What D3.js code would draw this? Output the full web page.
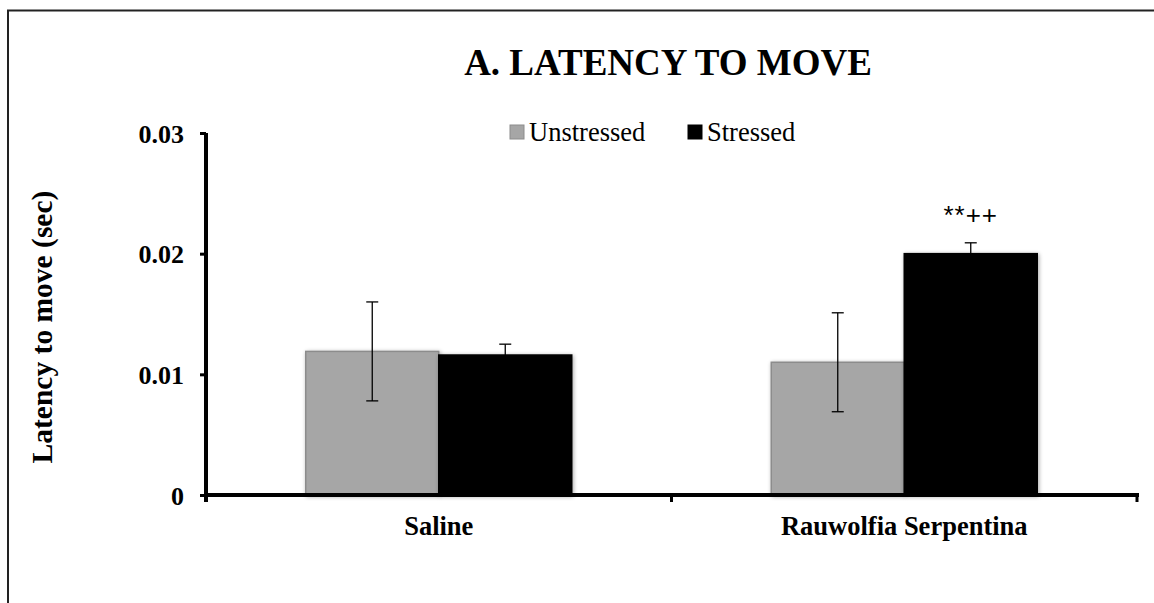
<!DOCTYPE html>
<html>
<head>
<meta charset="utf-8">
<script src="https://cdn.jsdelivr.net/npm/d3@7"></script>
<style>
  body { margin: 0; background: #fff; }
</style>
</head>
<body>
<div id="viz"></div>
<script>
// data
var groups = ["Saline", "Rauwolfia Serpentina"];
var series = ["Unstressed", "Stressed"];
var unstressed = [0.0119, 0.0110];
var stressed = [0.0116, 0.0200];
var unstressedErr = [0.0041, 0.0041];
var stressedErr = [0.0009, 0.0009];
var yTicks = [0, 0.01, 0.02, 0.03];
var marks = ["", "**++"];

var width = 1154,
    height = 603;
var serif = "'Liberation Serif', Tinos, 'Times New Roman', 'DejaVu Serif', serif";

var colors = {"Unstressed": "#a6a6a6", "Stressed": "#000000"};
var strokes = {"Unstressed": "#8c8c8c", "Stressed": "#000000"};

var svg = d3.select("#viz").append("svg")
    .attr("width", width)
    .attr("height", height)
    .style("font-family", serif);

// frame
svg.append("rect")
    .attr("x", 8)
    .attr("y", 10.5)
    .attr("width", width + 20)
    .attr("height", height + 20)
    .style("fill", "none")
    .style("stroke", "#222")
    .style("stroke-width", 2);

var x0 = d3.scaleBand()
    .domain(groups)
    .range([206, 1137])
    .paddingInner(0)
    .paddingOuter(0);

var x1 = d3.scaleBand()
    .domain(series)
    .range([0, x0.bandwidth()])
    .paddingInner(0)
    .paddingOuter(0.75);

var y = d3.scaleLinear()
    .domain([0, 0.03])
    .range([495, 133]);

var rows = groups.map(function(g, i) {
    return [
        {group: g, key: "Unstressed", value: unstressed[i], err: unstressedErr[i]},
        {group: g, key: "Stressed", value: stressed[i], err: stressedErr[i]}
    ];
});

// soft shadow like the original
var defs = svg.append("defs");
var f = defs.append("filter").attr("id", "shadow")
    .attr("x", "-10%").attr("y", "-10%").attr("width", "120%").attr("height", "120%");
f.append("feGaussianBlur").attr("in", "SourceAlpha").attr("stdDeviation", 2);
f.append("feOffset").attr("dx", 1).attr("dy", 1).attr("result", "b");
f.append("feComponentTransfer").append("feFuncA").attr("type", "linear").attr("slope", 0.35);
var fm = f.append("feMerge");
fm.append("feMergeNode");
fm.append("feMergeNode").attr("in", "SourceGraphic");

var g = svg.selectAll(".grp")
    .data(rows)
    .enter().append("g")
    .attr("class", "grp")
    .attr("transform", function(d, i) { return "translate(" + x0(groups[i]) + ",0)"; });

// bars
g.selectAll("rect")
    .data(function(d) { return d; })
    .enter().append("rect")
    .attr("x", function(d) { return x1(d.key); })
    .attr("y", function(d) { return y(d.value); })
    .attr("width", x1.bandwidth())
    .attr("height", function(d) { return y(0) - y(d.value); })
    .style("fill", function(d) { return colors[d.key]; })
    .style("stroke", function(d) { return strokes[d.key]; })
    .style("stroke-width", 1.5)
    .attr("filter", "url(#shadow)");

// error bars
var eb = g.selectAll(".err")
    .data(function(d) { return d; })
    .enter().append("g")
    .attr("class", "err")
    .style("stroke", "#000")
    .style("stroke-width", 1.3);

eb.append("line")
    .attr("x1", function(d) { return x1(d.key) + x1.bandwidth() / 2; })
    .attr("x2", function(d) { return x1(d.key) + x1.bandwidth() / 2; })
    .attr("y1", function(d) { return y(d.value + d.err); })
    .attr("y2", function(d) { return y(d.value - d.err); });

eb.append("line")
    .attr("x1", function(d) { return x1(d.key) + x1.bandwidth() / 2 - 6; })
    .attr("x2", function(d) { return x1(d.key) + x1.bandwidth() / 2 + 6; })
    .attr("y1", function(d) { return y(d.value + d.err); })
    .attr("y2", function(d) { return y(d.value + d.err); });

eb.append("line")
    .attr("x1", function(d) { return x1(d.key) + x1.bandwidth() / 2 - 6; })
    .attr("x2", function(d) { return x1(d.key) + x1.bandwidth() / 2 + 6; })
    .attr("y1", function(d) { return y(d.value - d.err); })
    .attr("y2", function(d) { return y(d.value - d.err); });

// significance marks
g.append("text")
    .attr("x", x1("Stressed") + x1.bandwidth() / 2)
    .attr("y", function(d, i) { return y(stressed[i] + stressedErr[i]) - 19; })
    .attr("text-anchor", "middle")
    .style("font-family", "'Liberation Sans', Arial, sans-serif")
    .style("font-size", "26px")
    .style("letter-spacing", "1px")
    .text(function(d, i) { return marks[i]; });

// y axis
var yAxis = svg.append("g")
    .attr("transform", "translate(206,0)")
    .call(d3.axisLeft(y).tickValues(yTicks).tickSize(6).tickPadding(16)
        .tickFormat(function(d) { return d === 0 ? "0" : d3.format(".2f")(d); }));
yAxis.select(".domain").attr("d", "M0," + (y(0) + 7) + "V" + y(0.03))
    .style("stroke-width", 4);
yAxis.selectAll(".tick line").style("stroke-width", 3);
yAxis.selectAll(".tick text")
    .style("font-family", serif)
    .style("font-size", "26px")
    .style("font-weight", "bold")
    .attr("dy", "0.35em");

// x axis
var xAxis = svg.append("g")
    .attr("transform", "translate(0," + y(0) + ")");
xAxis.append("line")
    .attr("x1", 204).attr("x2", 1139)
    .style("stroke", "#000").style("stroke-width", 4);
xAxis.selectAll(".xt")
    .data(groups.concat(["end"]))
    .enter().append("line")
    .attr("x1", function(d, i) { return i < groups.length ? x0(d) : x0.range()[1]; })
    .attr("x2", function(d, i) { return i < groups.length ? x0(d) : x0.range()[1]; })
    .attr("y1", 0).attr("y2", 7)
    .style("stroke", "#000").style("stroke-width", 3);
xAxis.selectAll(".xl")
    .data(groups)
    .enter().append("text")
    .attr("x", function(d) { return x0(d) + x0.bandwidth() / 2; })
    .attr("y", 40)
    .attr("text-anchor", "middle")
    .style("font-size", "26.5px")
    .style("font-weight", "bold")
    .text(function(d) { return d; });

// title
svg.append("text")
    .attr("x", 668)
    .attr("y", 75)
    .attr("text-anchor", "middle")
    .style("font-size", "37px")
    .style("font-weight", "bold")
    .text("A. LATENCY TO MOVE");

// y label
svg.append("text")
    .attr("transform", "translate(52,327) rotate(-90)")
    .attr("text-anchor", "middle")
    .style("font-size", "29.5px")
    .style("font-weight", "bold")
    .text("Latency to move (sec)");

// legend
var legX = [510, 688];
var leg = svg.selectAll(".leg")
    .data(series)
    .enter().append("g")
    .attr("class", "leg")
    .attr("transform", function(d, i) { return "translate(" + legX[i] + ",0)"; });
leg.append("rect")
    .attr("x", 0).attr("y", 125)
    .attr("width", 14).attr("height", 14)
    .style("fill", function(d) { return colors[d]; })
    .style("stroke", function(d) { return strokes[d]; });
leg.append("text")
    .attr("x", 19).attr("y", 141)
    .style("font-size", "26.5px")
    .text(function(d) { return d; });
</script>
</body>
</html>
